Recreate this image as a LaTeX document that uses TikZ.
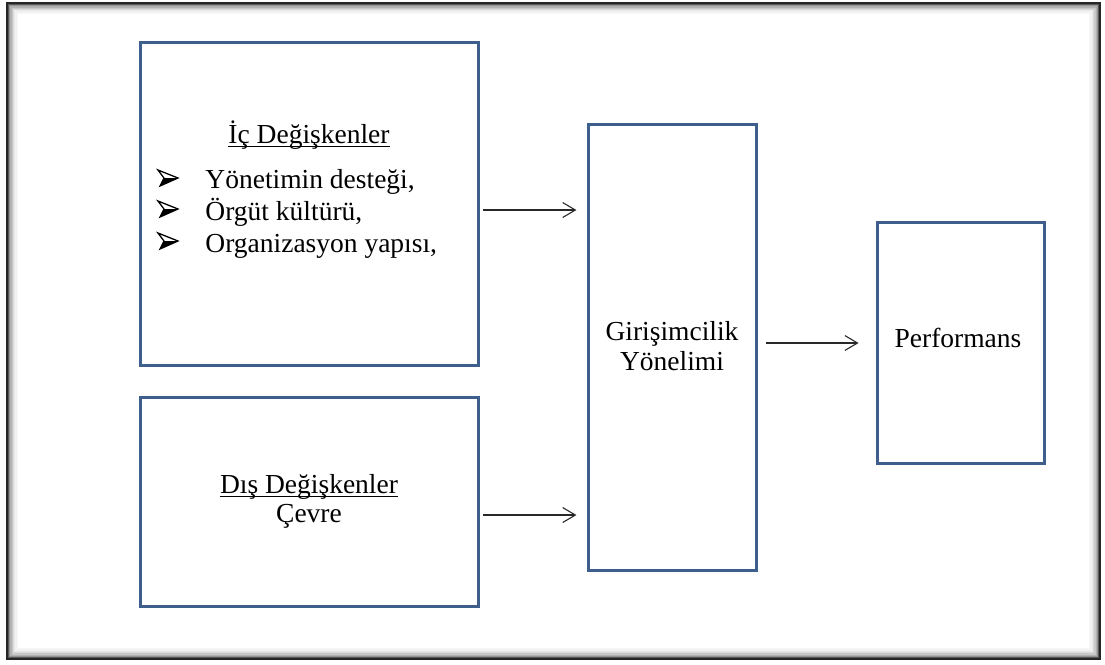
\documentclass[tikz,border=0pt]{standalone}
\usepackage{fontspec}
\setmainfont{Liberation Serif}
\usetikzlibrary{arrows.meta}

\definecolor{boxblue}{RGB}{62,94,140}
\definecolor{arrowgray}{RGB}{40,40,40}
\newdimen\px
\px=0.4364pt

\tikzset{
    box/.style={draw=boxblue, line width=3\px, inner sep=0pt},
    lbl/.style={font=\fontsize{12}{14}\selectfont, inner sep=0pt},
    uline/.style={draw=black, line width=0.55pt},
    link/.style={draw=arrowgray, line width=1.1\px, -{Straight Barb[length=5.5pt, width=6.5pt]}},
    bullet/.pic={
        \fill[black] (-4,0) -- (10,0) -- (-8,8) -- cycle;
        \draw[black, line width=1.3\px, line join=miter] (-10,-8) -- (10,0) -- (-8,8) -- (-4,0) -- cycle;
    }
}

\begin{document}
\begin{tikzpicture}[x=\px, y=-\px]
\useasboundingbox (0,0) rectangle (1105,664);

% Frame with inner shadow
\foreach \d/\o in {0/85, 1.3/65, 2.6/42, 3.9/30, 5.2/21, 6.5/14, 7.8/9, 9.1/5, 10.4/3} {
    \draw[black!\o, line width=1.4\px] (7+\d, 3+\d) rectangle (1100-\d, 659-\d);
}

% Boxes
\node[box, minimum width=338\px, minimum height=323\px] (ic) at (309, 203.5) {};
\node[box, minimum width=338\px, minimum height=209\px] (dis) at (309, 501.5) {};
\node[box, minimum width=168\px, minimum height=446\px] (gy) at (672, 347) {};
\node[box, minimum width=167\px, minimum height=241\px] (perf) at (960.5, 342.5) {};

% Internal variables
\node[lbl, anchor=base] (icT) at (309, 143) {İç Değişkenler};
\draw[uline] ([yshift=-1.6pt]icT.base west) -- ([yshift=-1.6pt]icT.base east);
\pic (b1) at (168, 178) {bullet};
\pic (b2) at (168, 209) {bullet};
\pic (b3) at (168, 241) {bullet};
\node[lbl, anchor=base west] (i1) at (205, 188) {Yönetimin desteği,};
\node[lbl, anchor=base west] (i2) at (205, 220) {Örgüt kültürü,};
\node[lbl, anchor=base west] (i3) at (205, 252) {Organizasyon yapısı,};

% External variables
\node[lbl, anchor=base] (disT) at (309, 493) {Dış Değişkenler};
\draw[uline] ([yshift=-1.6pt]disT.base west) -- ([yshift=-1.6pt]disT.base east);
\node[lbl, anchor=base] (cevre) at (309, 522) {Çevre};

% Orientation and performance
\node[lbl, anchor=base] (gy1) at (672, 340) {Girişimcilik};
\node[lbl, anchor=base] (gy2) at (672, 370) {Yönelimi};
\node[lbl, anchor=base] (perfT) at (958, 347) {Performans};

% Arrows
\draw[link, shorten <=1.7pt, shorten >=4.4pt] ([yshift=-2.84pt]ic.east) -- ([yshift=-2.84pt]ic.east -| gy.west);
\draw[link, shorten <=1.7pt, shorten >=4.4pt] ([yshift=-5.9pt]dis.east) -- ([yshift=-5.9pt]dis.east -| gy.west);
\draw[link, shorten <=3.9pt, shorten >=7.4pt] ([yshift=1.75pt]gy.east) -- ([yshift=1.75pt]gy.east -| perf.west);

\end{tikzpicture}
\end{document}
